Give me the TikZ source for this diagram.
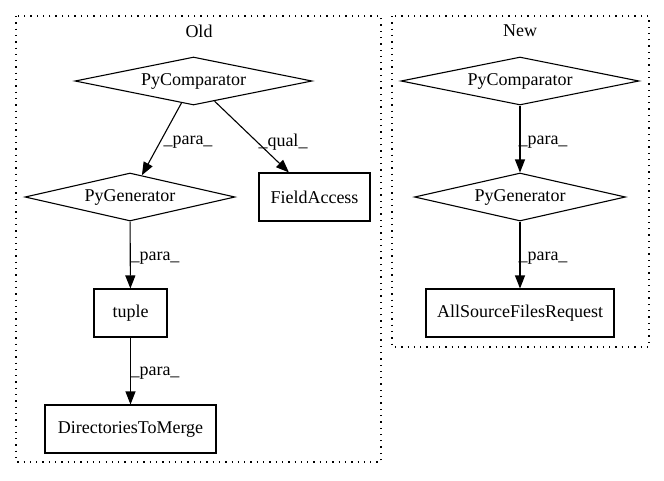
\documentclass[tikz,border=0pt]{standalone}
\usepackage{fontspec}
\setmainfont{Liberation Serif}
\usetikzlibrary{shapes.geometric,arrows.meta}
\begin{document}
\begin{tikzpicture}[x=1pt,y=-1pt,
  every node/.style={font=\fontsize{18}{21}\selectfont},
  dia/.style={draw,shape=diamond,line width=1.1pt,inner sep=0pt,minimum height=48pt},
  box/.style={draw,rectangle,line width=1.1pt,inner sep=0pt,minimum height=48pt},
  edge/.style={line width=1.1pt,-{Triangle[length=13pt,width=10pt]}},
  elab/.style={inner sep=1pt},
  cluster/.style={line width=1.2pt,dash pattern=on 1.3pt off 5pt}]
\useasboundingbox (0,0) rectangle (664,480);
% clusters
\draw[cluster] (16,16) rectangle (381,462);
\draw[cluster] (392,16) rectangle (649,347);
\node (oldlab) at (199,31) {Old};
\node (newlab) at (520,31) {New};
% Old nodes
\node[dia,minimum width=237pt,aspect=4.94] (ocmp) at (193.5,81) {PyComparator};
\node[dia,minimum width=210pt,aspect=4.375] (ogen) at (130,197) {PyGenerator};
\node[box,minimum width=111pt] (ofa) at (314.5,197) {FieldAccess};
\node[box,minimum width=73pt] (otup) at (130.5,313) {tuple};
\node[box,minimum width=171pt] (odir) at (130.5,429) {DirectoriesToMerge};
% New nodes
\node[dia,minimum width=238pt,aspect=4.96] (ncmp) at (520,81) {PyComparator};
\node[dia,minimum width=211pt,aspect=4.4] (ngen) at (520,197) {PyGenerator};
\node[box,minimum width=188pt] (nasf) at (520,313) {AllSourceFilesRequest};
% edges
\draw[edge] (ocmp) -- (ogen);
\draw[edge] (ocmp) -- (ofa);
\draw[edge] (ogen) -- (otup);
\draw[edge] (otup) -- (odir);
\draw[edge] (ncmp) -- (ngen);
\draw[edge] (ngen) -- (nasf);
% edge labels
\node[elab] (l1) at (188,142) {\_para\_};
\node[elab] (l2) at (283,142) {\_qual\_};
\node[elab] (l3) at (155,258) {\_para\_};
\node[elab] (l4) at (155,373) {\_para\_};
\node[elab] (l5) at (543,142) {\_para\_};
\node[elab] (l6) at (543,258) {\_para\_};
\end{tikzpicture}
\end{document}
